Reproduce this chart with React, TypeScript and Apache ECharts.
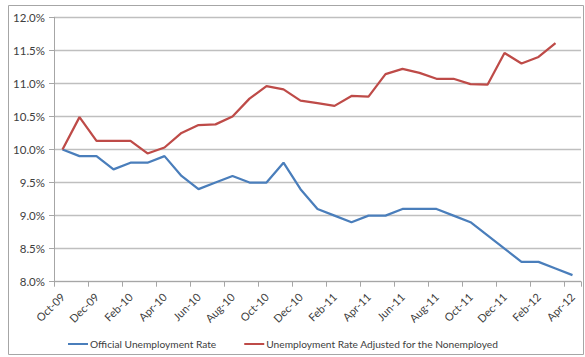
import React, { useEffect, useRef } from "react";
import * as echarts from "echarts";

const categories = [
  "Oct-09", "Nov-09", "Dec-09", "Jan-10", "Feb-10", "Mar-10", "Apr-10", "May-10",
  "Jun-10", "Jul-10", "Aug-10", "Sep-10", "Oct-10", "Nov-10", "Dec-10", "Jan-11",
  "Feb-11", "Mar-11", "Apr-11", "May-11", "Jun-11", "Jul-11", "Aug-11", "Sep-11",
  "Oct-11", "Nov-11", "Dec-11", "Jan-12", "Feb-12", "Mar-12", "Apr-12",
];

const officialRate = [
  10.0, 9.9, 9.9, 9.7, 9.8, 9.8, 9.9, 9.6, 9.4, 9.5, 9.6, 9.5, 9.5, 9.8, 9.4, 9.1,
  9.0, 8.9, 9.0, 9.0, 9.1, 9.1, 9.1, 9.0, 8.9, 8.7, 8.5, 8.3, 8.3, 8.2, 8.1,
];

const adjustedRate = [
  10.0, 10.49, 10.13, 10.13, 10.13, 9.94, 10.03, 10.25, 10.37, 10.38, 10.5, 10.77,
  10.96, 10.91, 10.74, 10.7, 10.66, 10.81, 10.8, 11.14, 11.22, 11.16, 11.07, 11.07,
  10.99, 10.98, 11.46, 11.3, 11.4, 11.61,
];

const seriesNames = [
  "Official Unemployment Rate",
  "Unemployment Rate Adjusted for the Nonemployed",
];

const FONT = "Lato, 'Open Sans', sans-serif";

export default function App() {
  const ref = useRef<HTMLDivElement>(null);
  useEffect(() => {
    document.body.style.margin = "0";
    if (!ref.current) return;
    const chart = echarts.init(ref.current, undefined, { renderer: "svg" });
    chart.setOption({
      animation: false,
      backgroundColor: "#ffffff",
      graphic: [
        {
          type: "rect",
          shape: { x: 8.5, y: 5.5, width: 575, height: 349 },
          style: { fill: "none", stroke: "#a6a6a6", lineWidth: 1 },
          silent: true,
          z: -1,
        },
      ],
      grid: { left: 54, top: 17.3, right: 4, bottom: 75.3, containLabel: false },
      legend: {
        left: 63,
        top: 334,
        icon: "rect",
        itemWidth: 20,
        itemHeight: 2,
        itemGap: 28,
        textStyle: { fontFamily: FONT, fontSize: 10.2, color: "#404040", padding: [0, 0, 0, -3] },
        data: seriesNames,
      },
      xAxis: {
        type: "category",
        data: categories,
        boundaryGap: true,
        axisLine: { lineStyle: { color: "#a6a6a6", width: 1 } },
        axisTick: { show: true, interval: 1, length: 5, lineStyle: { color: "#a6a6a6" } },
        axisLabel: {
          interval: 1,
          rotate: 45,
          margin: 13,
          fontFamily: FONT,
          fontSize: 11,
          color: "#404040",
        },
        splitLine: { show: false },
      },
      yAxis: {
        type: "value",
        min: 8,
        max: 12,
        interval: 0.5,
        axisLine: { show: true, lineStyle: { color: "#a6a6a6", width: 1 } },
        axisTick: { show: true, length: 5, lineStyle: { color: "#a6a6a6" } },
        axisLabel: {
          formatter: (v: number) => v.toFixed(1) + "%",
          fontFamily: FONT,
          fontSize: 11.5,
          color: "#404040",
          margin: 9,
        },
        splitLine: { lineStyle: { color: "#bfbfbf", width: 1.3 } },
      },
      series: [
        {
          name: seriesNames[0],
          type: "line",
          data: officialRate,
          symbol: "none",
          itemStyle: { color: "#4a7ebb" },
          lineStyle: { color: "#4a7ebb", width: 2.25 },
        },
        {
          name: seriesNames[1],
          type: "line",
          data: adjustedRate,
          symbol: "none",
          itemStyle: { color: "#be4b48" },
          lineStyle: { color: "#be4b48", width: 2.25 },
        },
      ],
    });
    return () => chart.dispose();
  }, []);
  return <div ref={ref} style={{ width: 585, height: 357 }} />;
}
